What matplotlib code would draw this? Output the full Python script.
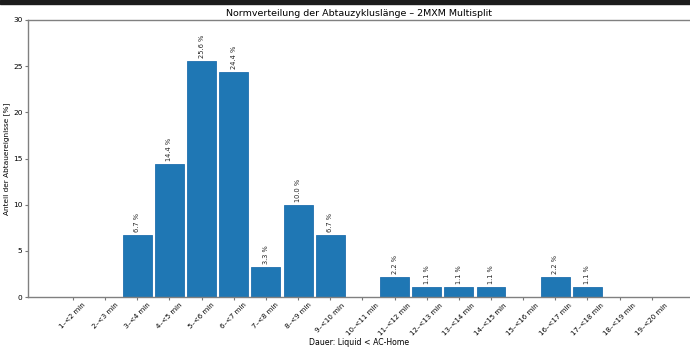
import numpy as np
import matplotlib
matplotlib.use('Agg')
from matplotlib import pyplot as plt
from matplotlib.patches import Rectangle

# Data
labels = [f'{i}–<{i + 1} min' for i in range(1, 20)]
shares = [0.0, 0.0, 6.7, 14.4, 25.6, 24.4, 3.3, 10.0, 6.7, 0.0,
          2.2, 1.1, 1.1, 1.1, 0.0, 2.2, 1.1, 0.0, 0.0]

title = 'Normverteilung der Abtauzykluslänge – 2MXM Multisplit'
xlabel = 'Dauer: Liquid < AC-Home'
ylabel = 'Anteil der Abtauereignisse [%]'

W, H = 690, 349
fig = plt.figure(figsize=(W / 100, H / 100), dpi=100)

# dark strip along the top of the screenshot
fig.patches.append(Rectangle((0, 1 - 4 / H), 1, 4 / H, transform=fig.transFigure,
                             color='#1c1c1c', zorder=-1))

ax = fig.add_axes([28 / W, 1 - 297 / H, (691 - 28) / W, (297 - 20) / H])

x = np.arange(len(labels))
bars = ax.bar(x, shares, width=0.9, color='#1f77b4', edgecolor='#1f6fae', linewidth=0.6)

for rect, v in zip(bars, shares):
    if v > 0:
        ax.annotate(f'{v:.1f} %', (rect.get_x() + rect.get_width() / 2, v),
                    xytext=(0, 2), textcoords='offset points',
                    ha='center', va='bottom', rotation=90, fontsize=4.8, color='#222222')

ax.set_xticks(x)
ax.set_xticklabels(labels, rotation=45, fontsize=5.0)
ax.set_xlim(-1.40, 19.22)
ax.set_ylim(0, 30)
ax.set_yticks(range(0, 31, 5))
ax.tick_params(axis='y', labelsize=5.3, length=2.5, pad=1.5, color='#777777')
ax.tick_params(axis='x', length=2.5, pad=1.0, color='#777777')
for sp in ax.spines.values():
    sp.set_color('#808080')
    sp.set_linewidth(1.0)

ax.set_title(title, fontsize=6.8, pad=3)
ax.set_xlabel(xlabel, fontsize=5.6, labelpad=1)
ax.set_ylabel(ylabel, fontsize=5.3, labelpad=2)

fig.savefig('out.png', dpi=100)
